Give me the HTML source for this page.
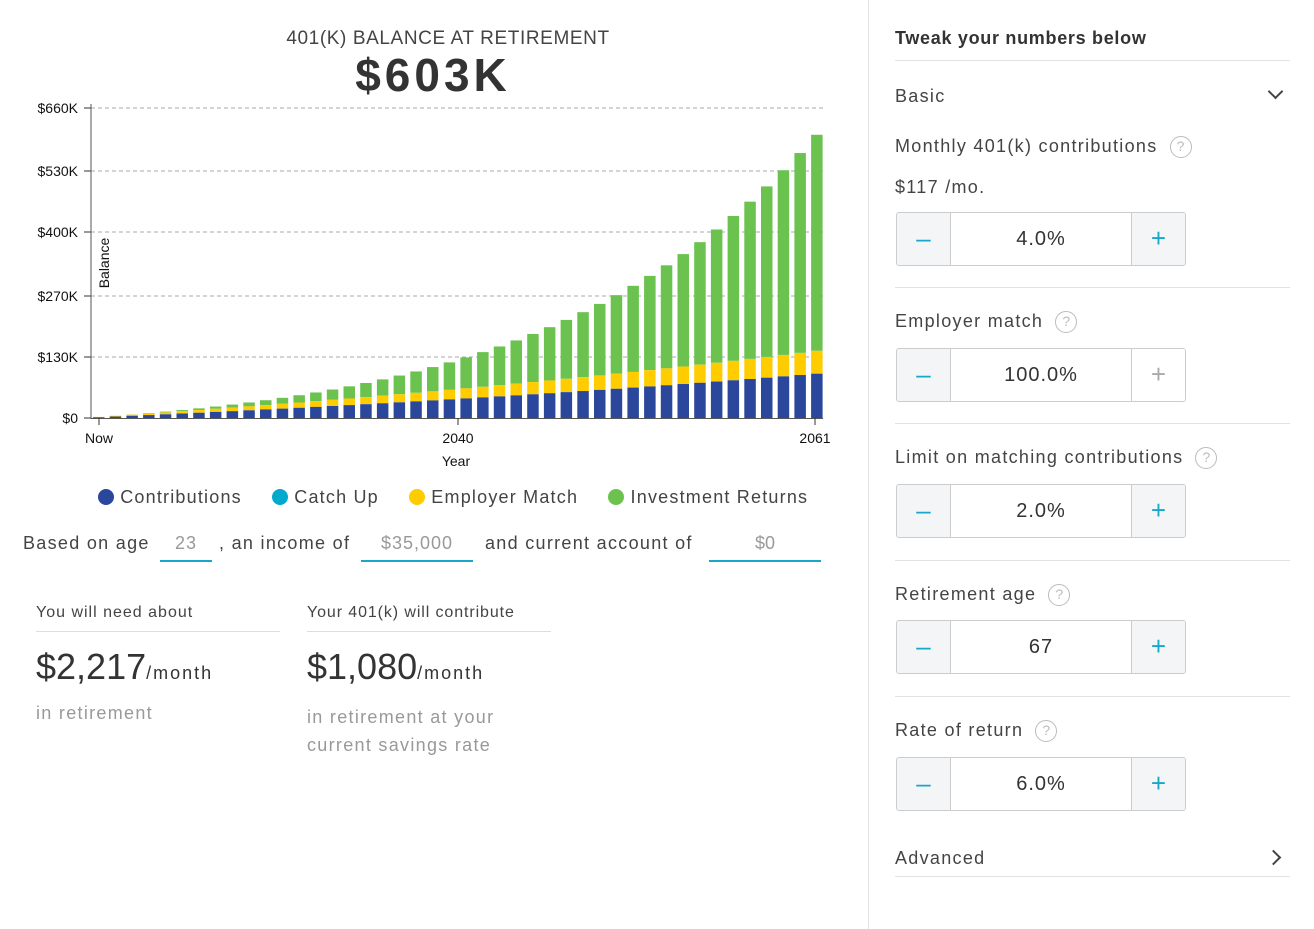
<!DOCTYPE html>
<html><head><meta charset="utf-8"><style>
*{margin:0;padding:0;box-sizing:border-box}
body{width:1314px;height:929px;background:#fff;font-family:"Liberation Sans",sans-serif;color:#444;position:relative;overflow:hidden}
.a{position:absolute;white-space:nowrap}
.lbl{font-size:18px;color:#444;letter-spacing:1.3px}
.q{display:inline-block;width:22px;height:22px;border:1.5px solid #bbb;border-radius:50%;color:#bbb;font-size:14px;text-align:center;line-height:19px;margin-left:12px;vertical-align:middle;letter-spacing:0}
.st{position:absolute;left:896px;width:290px;height:54px;border:1px solid #ccc;border-radius:3px;overflow:hidden}
.st .m,.st .p{position:absolute;top:0;width:54px;height:52px;background:#f4f5f6;color:#1aa6c8;font-size:26px;text-align:center;line-height:50px}
.st .m{left:0;border-right:1px solid #ccc}
.st .p{right:0;border-left:1px solid #ccc}
.st .p.off{background:#fff;color:#aaa}
.st .v{position:absolute;left:54px;right:54px;top:0;height:52px;text-align:center;line-height:52px;font-size:20px;color:#333;letter-spacing:1px}
.hl{position:absolute;left:895px;width:395px;height:1px;background:#e2e2e2}
.dot{display:inline-block;width:16px;height:16px;border-radius:50%;vertical-align:-2px}
</style></head><body>
<div class="a" style="left:0;width:896px;top:28px;text-align:center;font-size:19px;color:#444;letter-spacing:0.6px">401(K) BALANCE AT RETIREMENT</div>
<div class="a" style="left:0;width:866px;top:48px;text-align:center;font-size:46px;font-weight:bold;color:#333;letter-spacing:4px">$603K</div>
<svg class="a" style="left:0;top:0" width="868" height="480" id="ch" font-family="Liberation Sans, sans-serif">
</svg>
<div class="a" style="left:98px;top:487px;font-size:18px;letter-spacing:1.2px">
<span class="dot" style="background:#2a479c"></span> Contributions
<span class="dot" style="background:#00aacc;margin-left:24px"></span> Catch Up
<span class="dot" style="background:#ffcc00;margin-left:24px"></span> Employer Match
<span class="dot" style="background:#6cc24f;margin-left:24px"></span> Investment Returns
</div>
<div class="a lbl" style="left:23px;top:533px">Based on age</div>
<div class="a" style="left:160px;top:533px;width:52px;text-align:center;font-size:18px;color:#999;letter-spacing:1px">23</div>
<div class="a" style="left:160px;top:560px;width:52px;height:2px;background:#1aa6c8"></div>
<div class="a lbl" style="left:219px;top:533px">, an income of</div>
<div class="a" style="left:361px;top:533px;width:112px;text-align:center;font-size:18px;color:#999;letter-spacing:1px">$35,000</div>
<div class="a" style="left:361px;top:560px;width:112px;height:2px;background:#1aa6c8"></div>
<div class="a lbl" style="left:485px;top:533px">and current account of</div>
<div class="a" style="left:709px;top:533px;width:112px;text-align:center;font-size:18px;color:#999">$0</div>
<div class="a" style="left:709px;top:560px;width:112px;height:2px;background:#1aa6c8"></div>

<div class="a" style="left:36px;top:604px;font-size:16px;letter-spacing:1px">You will need about</div>
<div class="a" style="left:36px;top:631px;width:244px;height:1px;background:#ddd"></div>
<div class="a" style="left:36px;top:646px;font-size:36px;color:#333">$2,217<span style="font-size:18px;letter-spacing:2px">/month</span></div>
<div class="a" style="left:36px;top:703px;font-size:18px;color:#999;letter-spacing:1.3px">in retirement</div>
<div class="a" style="left:307px;top:604px;font-size:16px;letter-spacing:0.9px">Your 401(k) will contribute</div>
<div class="a" style="left:307px;top:631px;width:244px;height:1px;background:#ddd"></div>
<div class="a" style="left:307px;top:646px;font-size:36px;color:#333">$1,080<span style="font-size:18px;letter-spacing:2px">/month</span></div>
<div class="a" style="left:307px;top:703px;font-size:18px;color:#999;line-height:28px;white-space:normal;width:200px;letter-spacing:1.3px">in retirement at your current savings rate</div>

<div class="a" style="left:868px;top:0;width:1px;height:929px;background:#e2e2e2"></div>
<div class="a" style="left:895px;top:28px;font-size:18px;font-weight:bold;color:#333;letter-spacing:0.7px">Tweak your numbers below</div>
<div class="hl" style="top:60px"></div>
<div class="a lbl" style="left:895px;top:86px">Basic</div>
<div class="a" style="left:1270px;top:86px;width:11px;height:11px;border-right:2px solid #444;border-bottom:2px solid #444;transform:rotate(45deg)"></div>
<div class="a lbl" style="left:895px;top:136px">Monthly 401(k) contributions<span class="q">?</span></div>
<div class="a lbl" style="left:895px;top:177px">$117 /mo.</div>
<div class="st" style="top:212px"><div class="m">–</div><div class="v">4.0%</div><div class="p">+</div></div>
<div class="hl" style="top:287px"></div>
<div class="a lbl" style="left:895px;top:311px">Employer match<span class="q">?</span></div>
<div class="st" style="top:348px"><div class="m">–</div><div class="v">100.0%</div><div class="p off">+</div></div>
<div class="hl" style="top:423px"></div>
<div class="a lbl" style="left:895px;top:447px">Limit on matching contributions<span class="q">?</span></div>
<div class="st" style="top:484px"><div class="m">–</div><div class="v">2.0%</div><div class="p">+</div></div>
<div class="hl" style="top:560px"></div>
<div class="a lbl" style="left:895px;top:584px">Retirement age<span class="q">?</span></div>
<div class="st" style="top:620px"><div class="m">–</div><div class="v">67</div><div class="p">+</div></div>
<div class="hl" style="top:696px"></div>
<div class="a lbl" style="left:895px;top:720px">Rate of return<span class="q">?</span></div>
<div class="st" style="top:757px"><div class="m">–</div><div class="v">6.0%</div><div class="p">+</div></div>
<div class="a lbl" style="left:895px;top:848px">Advanced</div>
<div class="a" style="left:1268px;top:852px;width:11px;height:11px;border-right:2px solid #444;border-bottom:2px solid #444;transform:rotate(-45deg)"></div>
<div class="hl" style="top:876px"></div>
<script>
(function(){
var s='',y0=418,k=310/660;
var ticks=[[0,'$0',418],[130,'$130K',357],[270,'$270K',296],[400,'$400K',232],[530,'$530K',171],[660,'$660K',108]];
ticks.forEach(function(t){
 if(t[0]>0)s+='<line x1="91" x2="823" y1="'+t[2]+'" y2="'+t[2]+'" stroke="#aaa" stroke-dasharray="4,3"/>';
 s+='<line x1="84" x2="91" y1="'+t[2]+'" y2="'+t[2]+'" stroke="#333"/>';
 s+='<text x="78" y="'+(t[2]+5)+'" text-anchor="end" font-size="14" fill="#111">'+t[1]+'</text>';
});
var n=44,g=1.015,a0=143/((Math.pow(g,n)-1)/(g-1)),B=0,cb=0,cy=0,bars=[];
for(var i=0;i<n;i++){var a=a0*Math.pow(g,i);B=B*1.06+a;cb+=a*0.66;cy+=a*0.34;bars.push([cb,cy,B]);}
var sc=(603-143)/(B-143);
for(i=0;i<n;i++){
 var b=bars[i],x=93+i*16.7,w=11.5;
 var tot=b[0]+b[1]+(b[2]-b[0]-b[1])*sc;
 var hb=b[0]*k,hy=b[1]*k,ht=tot*k;
 s+='<rect x="'+x+'" y="'+(y0-ht)+'" width="'+w+'" height="'+(ht-hb-hy)+'" fill="#6cc24f"/>';
 s+='<rect x="'+x+'" y="'+(y0-hb-hy)+'" width="'+w+'" height="'+hy+'" fill="#ffcc00"/>';
 s+='<rect x="'+x+'" y="'+(y0-hb)+'" width="'+w+'" height="'+hb+'" fill="#2a479c"/>';
}
s+='<line x1="91" x2="91" y1="104" y2="419" stroke="#555"/>';
s+='<line x1="91" x2="823" y1="418.5" y2="418.5" stroke="#555"/>';
[[99,'Now'],[458,'2040'],[815,'2061']].forEach(function(t){
 s+='<line x1="'+t[0]+'" x2="'+t[0]+'" y1="418" y2="425" stroke="#333"/>';
 s+='<text x="'+t[0]+'" y="443" text-anchor="middle" font-size="14" fill="#111">'+t[1]+'</text>';
});
s+='<text x="456" y="466" text-anchor="middle" font-size="14" fill="#111">Year</text>';
s+='<text transform="translate(109,263) rotate(-90)" text-anchor="middle" font-size="14" fill="#111">Balance</text>';
document.getElementById('ch').innerHTML=s;
})();
</script>
</body></html>
